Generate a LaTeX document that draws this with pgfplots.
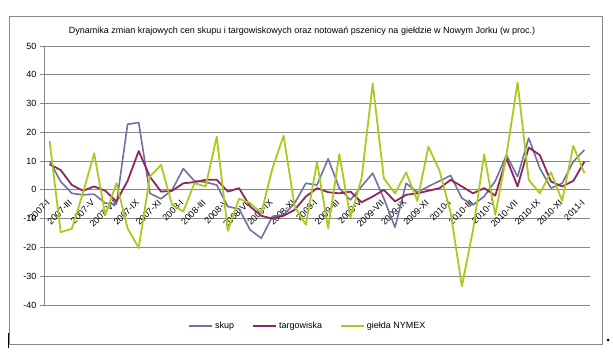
\documentclass[border=0pt]{standalone}
\usepackage{fontspec}
\setmainfont{Liberation Sans}
\usepackage{pgfplots}
\usepackage{pgfplotstable}
\pgfplotsset{compat=1.18}
\definecolor{cskup}{RGB}{112,112,162}
\definecolor{ctarg}{RGB}{140,40,92}
\definecolor{cnym}{RGB}{170,202,30}
\definecolor{cgrid}{RGB}{135,135,135}

\pgfplotstableread{
i skup targ nym
0 10 8.9 17
1 2.9 6.9 -14.7
2 -1.2 1.7 -13.5
3 -1.7 -0.3 -1
4 -1.5 1.2 12.7
5 -4.6 -0.3 -8.7
6 -5 -4 2.3
7 22.8 3.1 -13.3
8 23.4 13.5 -20.2
9 -1.2 4.6 4.6
10 -3.1 -0.6 8.7
11 0 -0.3 -5.2
12 7.4 2.3 -7.5
13 3.1 2.7 2.3
14 2.7 3.5 1.2
15 1.7 3.5 18.5
16 -5.8 -0.6 -14.2
17 -6.6 0.6 -3.1
18 -13.9 -5.8 -4.6
19 -16.8 -9 -8.1
20 -9.2 -10 7.5
21 -8.7 -9 18.8
22 -4.6 -6.9 -5.8
23 2.3 -2.3 -12.1
24 1.7 0.6 9.6
25 10.8 -0.8 -13.3
26 0.6 -1.2 12.4
27 -3.5 -0.6 -9.6
28 1.2 -4.3 4
29 5.8 -2.3 37
30 -3 0 4
31 -13 -4 -1.2
32 2.3 -1.7 6.1
33 -0.8 -1.2 -3.8
34 1.2 -0.3 15
35 3.1 0.6 6.6
36 5 3.5 -8
37 -2.9 1.2 -33.5
38 -5.2 -1.2 -14
39 -2.3 0.6 12.4
40 3.1 -2 -8.7
41 12.1 11 12
42 4.6 1.2 37.3
43 18 14.7 3.5
44 7.5 12.1 -1.2
45 0.6 2.9 6.1
46 2.3 1.2 -3.8
47 9.8 3.1 15.3
48 13.9 9.8 5.8
}\datatable

\begin{document}
\begin{tikzpicture}[x=1pt,y=1pt]
\path[use as bounding box] (0,0) rectangle (613,359);
\draw[cgrid, line width=0.8pt] (9,15) rectangle (602,343);
\draw[black, line width=0.6pt] (8,11) -- (8,26);
\fill[black] (608,19) circle (1.5);
\node[font=\fontsize{9}{10}\selectfont] at (302,328) {Dynamika zmian krajowych cen skupu i targowiskowych oraz notowań pszenicy na giełdzie w Nowym Jorku (w proc.)};
\begin{axis}[
  at={(44pt,54pt)}, anchor=south west, scale only axis,
  width=546pt, height=259pt,
  xmin=-0.5, xmax=48.5, ymin=-40, ymax=50,
  ytick={-40,-30,...,50},
  axis x line*=middle, axis y line*=left,
  axis line style={cgrid, line width=0.8pt},
  ymajorgrids, grid style={cgrid, line width=0.8pt},
  xtick={0,2,...,48},
  xticklabels={2007-I,2007-III,2007-V,2007-VII,2007-IX,2007-XI,2008-I,2008-III,2008-V,2008-VII,2008-IX,2008-XI,2009-I,2009-III,2009-V,2009-VII,2009-IX,2009-XI,2010-I,2010-III,2010-V,2010-VII,2010-IX,2010-XI,2011-I},
  xticklabel style={rotate=45, anchor=north east, font=\fontsize{9}{10}\selectfont, inner sep=1pt, xshift=-5pt},
  x tick style={draw=none},
  y tick style={cgrid, line width=0.8pt},
  tick align=outside, major tick length=4pt,
  yticklabel style={font=\fontsize{9}{10}\selectfont},
  /pgf/number format/assume math mode=true,
  legend style={at={(0.4835,-0.081)}, anchor=center, draw=none, fill=none,
    font=\fontsize{9}{10}\selectfont, inner sep=1pt,
    /tikz/every even column/.append style={column sep=16pt}},
  legend columns=3,
  legend cell align=left,
  legend image code/.code={\draw[#1] (0pt,0pt) -- (23pt,0pt);},
  clip=false,
]
\addplot[cskup, line width=1.6pt, line join=round] table[x=i, y=skup] {\datatable};
\addlegendentry{skup}
\addplot[ctarg, line width=1.8pt, line join=round] table[x=i, y=targ] {\datatable};
\addlegendentry{targowiska}
\addplot[cnym, line width=1.8pt, line join=round] table[x=i, y=nym] {\datatable};
\addlegendentry{giełda NYMEX}
\end{axis}
\end{tikzpicture}
\end{document}
